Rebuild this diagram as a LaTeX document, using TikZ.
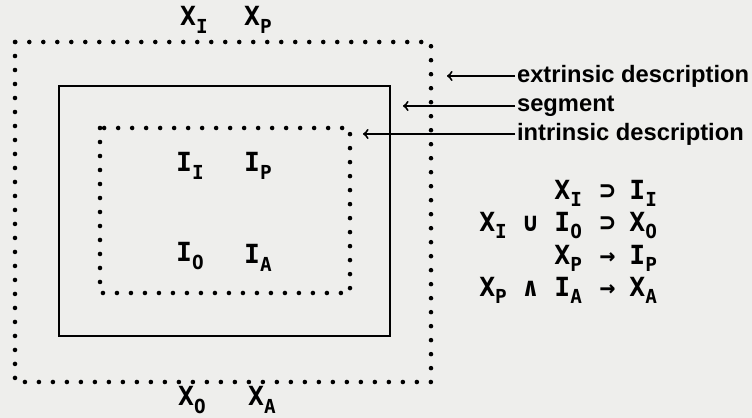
\documentclass[tikz,border=0pt]{standalone}
\usepackage{fontspec}
\setmainfont{Liberation Sans}
\newfontfamily\letterfont{DejaVu Sans Mono}
\usetikzlibrary{positioning}
\definecolor{paper}{RGB}{238,238,236}
\newcommand{\symsub}[2]{#1\raisebox{-0.5ex}{\fontsize{11}{11}\selectfont #2}}

\begin{document}
\begin{tikzpicture}[x=0.02cm, y=-0.02cm, >=to,
    dotbox/.style={line width=2.6pt, line cap=round, dash pattern=on 0pt off 0.28cm},
    solidbox/.style={line width=1.2pt},
    sym/.style={font=\letterfont\bfseries\fontsize{15}{17}\selectfont, inner sep=0pt},
    note/.style={font=\bfseries\fontsize{13.5}{15}\selectfont, anchor=west, inner sep=1pt}]
  \fill[paper] (0,0) rectangle (752,418);

  % the three boxes
  \draw[dotbox] (15,42) rectangle (431,382);
  \draw[solidbox] (59,86) rectangle (390,336);
  \draw[dotbox] (100,128) rectangle (350,293);

  % outer labels
  \node[sym] (xi) at (194,20) {\symsub{X}{I}};
  \node[sym] (xp) at (258,20) {\symsub{X}{P}};
  \node[sym] (xo) at (192,400) {\symsub{X}{O}};
  \node[sym] (xa) at (262,400) {\symsub{X}{A}};

  % inner labels
  \node[sym] (ii) at (190,166) {\symsub{I}{I}};
  \node[sym] (ip) at (258,166) {\symsub{I}{P}};
  \node[sym] (io) at (190,256) {\symsub{I}{O}};
  \node[sym] (ia) at (258,258) {\symsub{I}{A}};

  % pointers
  \node[note] (extrinsic) at (515,76) {extrinsic description};
  \node[note] (segment) at (515,106) {segment};
  \node[note] (intrinsic) at (515,134) {intrinsic description};
  \coordinate (extip) at (447,76);
  \coordinate (segtip) at (403,106);
  \coordinate (inttip) at (363,134);
  \draw[->, line width=1.1pt] (extrinsic.west) -- (extip);
  \draw[->, line width=1.1pt] (segment.west) -- (segtip);
  \draw[->, line width=1.1pt] (intrinsic.west) -- (inttip);

  % relations
  \node[sym, anchor=west] (rules) at (479,242) {%
    \begin{tabular}{@{}r@{\hspace{10pt}}c@{\hspace{8pt}}l@{}}
      \symsub{X}{I} & ⊃ & \symsub{I}{I}\\[1.5pt]
      \symsub{X}{I} ∪ \symsub{I}{O} & ⊃ & \symsub{X}{O}\\[1.5pt]
      \symsub{X}{P} & → & \symsub{I}{P}\\[1.5pt]
      \symsub{X}{P} ∧ \symsub{I}{A} & → & \symsub{X}{A}
    \end{tabular}};
\end{tikzpicture}
\end{document}
